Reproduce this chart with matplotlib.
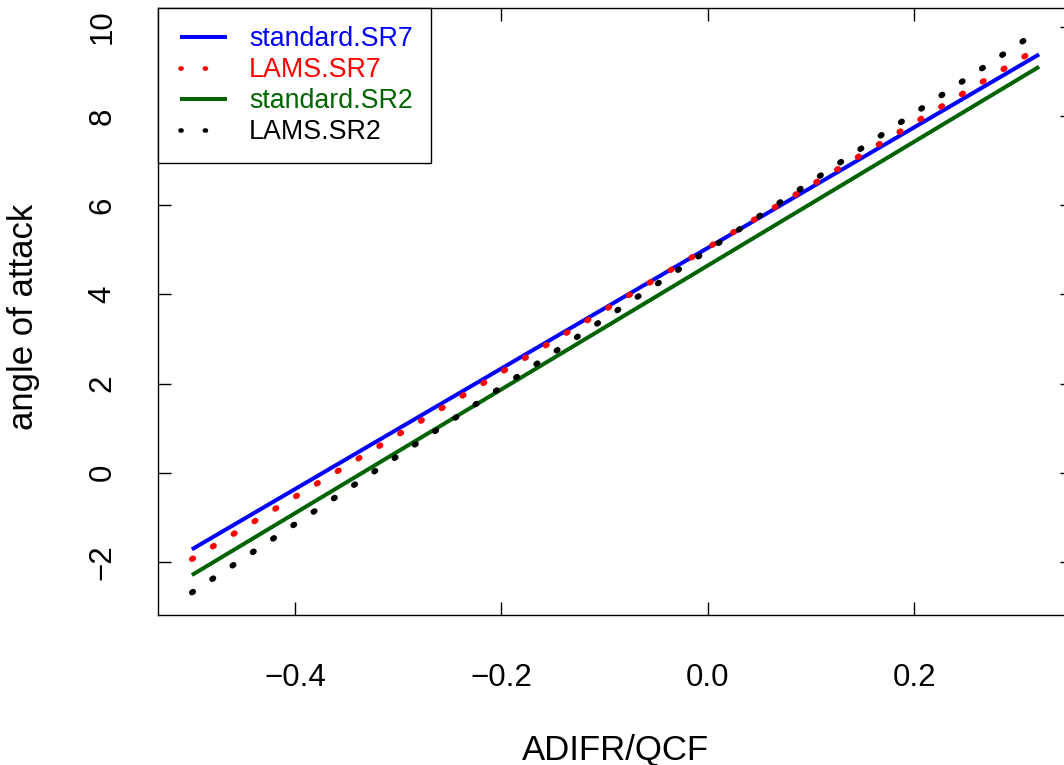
import matplotlib
matplotlib.use("Agg")
import matplotlib.pyplot as plt
from matplotlib.lines import Line2D
from matplotlib.legend_handler import HandlerLine2D
import numpy as np

plt.rcParams['font.family'] = ['Liberation Sans', 'DejaVu Sans']

# ---- data ----
x_range = [-0.5, 0.321]
standard_SR7 = [-1.717, 9.381]
LAMS_SR7 = [-1.936, 9.533]
standard_SR2 = [-2.294, 9.103]
LAMS_SR2 = [-2.685, 9.916]

series_names = ["standard.SR7", "LAMS.SR7", "standard.SR2", "LAMS.SR2"]
series_colors = ["#0000FF", "#FF0000", "#006400", "#000000"]
series_dotted = [False, True, False, True]
series_values = [standard_SR7, LAMS_SR7, standard_SR2, LAMS_SR2]

x_ticks = [-0.4, -0.2, 0.0, 0.2]
y_ticks = [-2, 0, 2, 4, 6, 8, 10]
x_label = "ADIFR/QCF"
y_label = "angle of attack"

W, H = 1064, 765
fig = plt.figure(figsize=(W / 100, H / 100), dpi=100)
ax = fig.add_axes([158 / W, 150 / H, 915 / W, 607 / H])

SOLID_LW = 2.9
DOT_LW = 4.2
PERIOD_PT = 17.5  # dot period in points

def dot_dashes(lw, on=0.25):
    return (0, (on, PERIOD_PT / lw - on))

for name, col, dotted, yv in zip(series_names, series_colors, series_dotted, series_values):
    if dotted:
        ax.plot(x_range, yv, color=col, lw=DOT_LW, linestyle=dot_dashes(DOT_LW),
                dash_capstyle='round', label=name)
    else:
        ax.plot(x_range, yv, color=col, lw=SOLID_LW, solid_capstyle='butt', label=name)

# R-style 4% axis padding
allx = np.array(x_range)
ally = np.concatenate([np.array(v) for v in series_values])
dx = allx.max() - allx.min()
dy = ally.max() - ally.min()
ax.set_xlim(allx.min() - 0.04 * dx, allx.max() + 0.04 * dx)
ax.set_ylim(ally.min() - 0.04 * dy, ally.max() + 0.04 * dy)

ax.set_xticks(x_ticks)
ax.set_xticklabels([f"{v:.1f}".replace("-", "\u2212") for v in x_ticks])
ax.set_yticks(y_ticks)
ax.set_yticklabels([str(v).replace("-", "\u2212") for v in y_ticks], rotation=90, va='center')

for sp in ax.spines.values():
    sp.set_linewidth(1.0)
ax.tick_params(axis='both', direction='in', length=9.4, width=1.0, labelsize=22.5,
               top=True, right=True)
ax.tick_params(axis='x', pad=34.5)
ax.tick_params(axis='y', pad=29)

fig.text(615 / W, 5.7 / H, x_label, ha='center', va='baseline', fontsize=25)
fig.text(33 / W, 1 - 317 / H, y_label, ha='center', va='baseline', rotation=90,
         rotation_mode='anchor', fontsize=25)

# legend
LEG_FS = 19.3
handles = []
for name, col, dotted in zip(series_names, series_colors, series_dotted):
    if dotted:
        lw = 3.3
        h = Line2D([], [], color=col, lw=lw, linestyle=dot_dashes(lw), dash_capstyle='round')
    else:
        h = Line2D([], [], color=col, lw=SOLID_LW, solid_capstyle='butt')
    handles.append(h)

leg = ax.legend(handles, series_names, loc='upper left', bbox_to_anchor=(0, 1),
                borderaxespad=0, fontsize=LEG_FS, fancybox=False, framealpha=1,
                edgecolor='black', borderpad=0.67, handlelength=1.92,
                handletextpad=0.8, labelspacing=0.19,
                handler_map={Line2D: HandlerLine2D(xpad=0.15)})
leg.get_frame().set_linewidth(1.0)
for t, c in zip(leg.get_texts(), series_colors):
    t.set_color(c)

fig.savefig("out.png", dpi=100)
